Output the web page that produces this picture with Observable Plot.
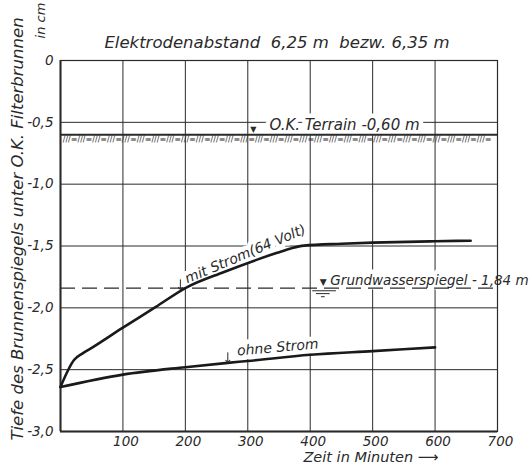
<!DOCTYPE html>
<html>
<head>
<meta charset="utf-8">
<script src="https://cdn.jsdelivr.net/npm/d3@7"></script>
<script src="https://cdn.jsdelivr.net/npm/@observablehq/plot@0.6"></script>
<style>
  html, body { margin: 0; padding: 0; background: #ffffff; }
  svg { display: block; }
</style>
</head>
<body>
<div id="chart"></div>
<script>
// ---- data ----
const xTicks = [100, 200, 300, 400, 500, 600, 700];
const yTicks = [0, -0.5, -1, -1.5, -2, -2.5, -3];
const gridXValues = [100, 200, 300, 400, 500, 600];
const gridYValues = [-0.5, -1, -1.5, -2, -2.5];

const mitTime  = [0, 22, 35, 48, 100, 152, 200, 262, 315, 347, 369, 390, 450, 500, 600, 657];
const mitDepth = [-2.64, -2.42, -2.37, -2.33, -2.16, -1.995, -1.84, -1.71, -1.61, -1.555, -1.52, -1.497, -1.482, -1.473, -1.462, -1.457];

const ohneTime  = [0, 100, 200, 268, 300, 400, 500, 600];
const ohneDepth = [-2.64, -2.54, -2.48, -2.445, -2.43, -2.38, -2.35, -2.32];

const terrainLevel = -0.60;
const groundwaterLevel = -1.84;

const titleText = "Elektrodenabstand  6,25 m  bezw. 6,35 m";
const yLabelMain = "Tiefe des Brunnenspiegels unter O.K. Filterbrunnen";
const yLabelUnit = "in cm";
const xLabel = "Zeit in Minuten ⟶";

// annotation labels
const labelTexts  = ["O.K. Terrain -0,60 m", "Grundwasserspiegel - 1,84 m", "mit Strom(64 Volt)", "ohne Strom"];
const labelTimes  = [455, 591, 296, 348];
const labelDepths = [-0.525, -1.78, -1.565, -2.32];
const labelRotate = [0, 0, -23, -5];
const labelSizes  = [15, 13.5, 14, 14];

// label pointer arrows (time, depth on curve)
const arrowTimes  = [192, 268];
const arrowDepths = [-1.855, -2.445];

// ---- build tables ----
const mit = mitTime.map((t, i) => ({t, d: mitDepth[i]}));
const ohne = ohneTime.map((t, i) => ({t, d: ohneDepth[i]}));
const labels = labelTexts.map((s, i) => ({s, t: labelTimes[i], d: labelDepths[i], r: labelRotate[i], f: labelSizes[i]}));
const arrows = arrowTimes.map((t, i) => ({t, d: arrowDepths[i]}));

const fmt = v => v === 0 ? "0" : v.toFixed(1).replace(".", ",");
const ink = "#2a2a2a";
const font = "DejaVu Sans, Liberation Sans, sans-serif";

const chart = Plot.plot({
  width: 530,
  height: 464,
  marginLeft: 60,
  marginRight: 33,
  marginTop: 60,
  marginBottom: 33,
  style: {fontFamily: font, fontStyle: "italic", fontSize: "14px", color: ink, background: "#ffffff"},
  x: {domain: [0, 700]},
  y: {domain: [-3, 0]},
  marks: [
    Plot.gridX(gridXValues, {stroke: ink, strokeOpacity: 1, strokeWidth: 1}),
    Plot.gridY(gridYValues, {stroke: ink, strokeOpacity: 1, strokeWidth: 1}),
    // white knock-out behind annotation labels (gaps in the grid)
    Plot.text(labels, {x: "t", y: "d", text: "s", rotate: "r", fontSize: d => d.f, fill: "white", stroke: "white", strokeWidth: 9, strokeLinejoin: "round"}),
    Plot.frame({stroke: ink, strokeWidth: 1.2}),
    Plot.ruleX([0], {stroke: ink, strokeWidth: 2}),
    Plot.ruleY([-3], {stroke: ink, strokeWidth: 2}),
    Plot.axisX(xTicks, {tickSize: 0, tickPadding: 5, dx: 3, fontSize: 13.5, fill: ink, label: null}),
    Plot.axisY(yTicks, {tickSize: 0, tickPadding: 7, tickFormat: fmt, fontSize: 13.5, fill: ink, label: null}),
    // terrain line + hatching
    Plot.ruleY([terrainLevel], {stroke: ink, strokeWidth: 2}),
    Plot.text([terrainLevel], {x: 347, y: d => d, text: () => "///≡".repeat(29), fontSize: 8, dy: 5, fill: "#333", fontStyle: "normal"}),
    // groundwater dashed line
    Plot.ruleY([groundwaterLevel], {stroke: ink, strokeWidth: 1.3, strokeDasharray: "15,7"}),
    Plot.text(labels, {x: "t", y: "d", text: "s", rotate: "r", fontSize: d => d.f, fill: ink}),
    // curves
    Plot.line(mit, {x: "t", y: "d", stroke: "#1a1a1a", strokeWidth: 2.6, curve: "monotone-x"}),
    Plot.line(ohne, {x: "t", y: "d", stroke: "#1a1a1a", strokeWidth: 2.6, curve: "monotone-x"}),
    // markers
    Plot.text([terrainLevel], {x: 309, y: d => d, text: () => "▼", fontSize: 8, dy: -5, fill: ink, fontStyle: "normal"}),
    Plot.text([groundwaterLevel], {x: 421, y: d => d, text: () => "▼", fontSize: 9, dy: -6, fill: ink, fontStyle: "normal"}),
    Plot.ruleY([-1.862], {x1: 404, x2: 442, stroke: ink, strokeWidth: 1}),
    Plot.ruleY([-1.885], {x1: 410, x2: 432, stroke: ink, strokeWidth: 1}),
    Plot.ruleY([-1.91], {x1: 418, x2: 424, stroke: ink, strokeWidth: 1}),
    Plot.link(arrows, {x1: "t", x2: "t", y1: d => d.d + 0.085, y2: d => d.d + 0.012, stroke: ink, strokeWidth: 1, markerEnd: "arrow"}),
    // title and axis titles
    Plot.text([titleText], {frameAnchor: "top", text: d => d, dy: -24, dx: -2, fontSize: 16.5, fill: ink}),
    Plot.text([yLabelMain], {frameAnchor: "left", textAnchor: "middle", text: d => d, rotate: -90, dx: -43, dy: -17, fontSize: 16.5, fill: ink}),
    Plot.text([yLabelUnit], {frameAnchor: "top-left", textAnchor: "middle", text: d => d, rotate: -90, dx: -25, dy: -40, fontSize: 13, fill: ink}),
    Plot.text([xLabel], {frameAnchor: "bottom", lineAnchor: "middle", text: d => d, dx: 92, dy: 26, fontSize: 14.5, fill: ink})
  ]
});
document.getElementById("chart").appendChild(chart);
</script>
</body>
</html>
